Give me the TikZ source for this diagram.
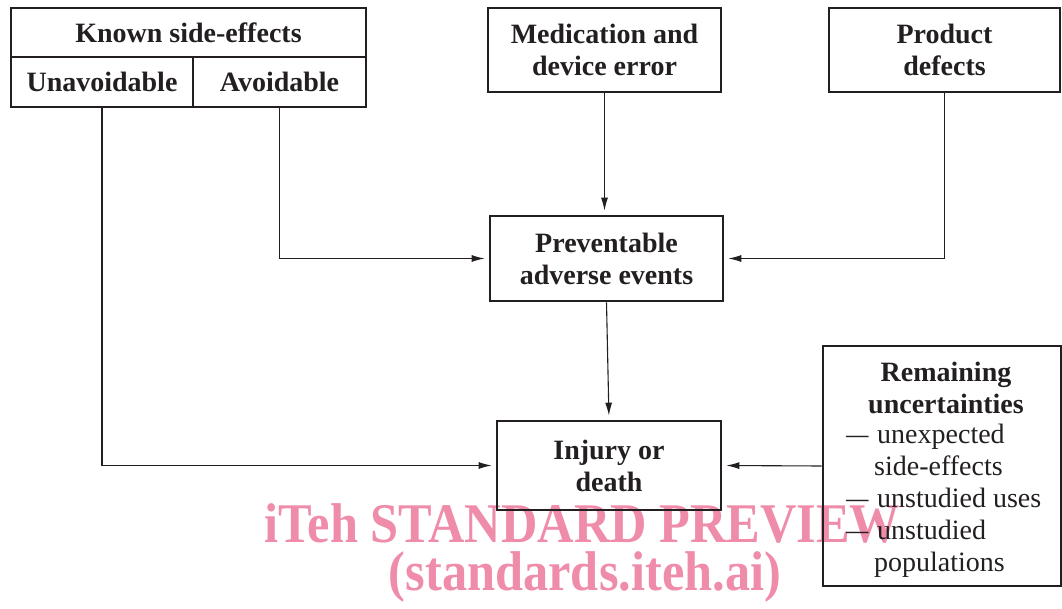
\documentclass[tikz,border=0pt]{standalone}
\usepackage{fontspec}
\setmainfont{Liberation Serif}
\usetikzlibrary{arrows.meta}
\definecolor{wmpink}{RGB}{238,140,170}
\definecolor{ink}{RGB}{35,31,32}
\newcommand{\listdash}{\makebox[31pt][l]{\scalebox{0.8}[1]{—}}}
\begin{document}
\begin{tikzpicture}[x=1pt,y=-1pt,
  box/.style={draw=ink, line width=2.6pt, inner sep=0pt, align=center,
    text=ink, font=\fontsize{28}{32}\selectfont\bfseries},
  arr/.style={draw=ink, line width=1.1pt, -{Latex[length=13pt,width=7pt]}, shorten >=4pt},
  wm/.style={text=wmpink, inner sep=0pt, xscale=0.9,
    font=\fontsize{56}{60}\selectfont\bfseries},
  plain/.style={text=ink, inner sep=0pt, align=left,
    font=\fontsize{28}{32}\selectfont}]
\useasboundingbox (0,0) rectangle (1062,609);
% watermark
\node[wm, anchor=base] (wm1) at (582.5,542) {iTeh STANDARD PREVIEW};
\node[wm, anchor=base] (wm2) at (585,590) {(standards.iteh.ai)};
% boxes
\node[box, minimum width=355pt, minimum height=49pt] (known) at (188.5,32.5) {Known side-effects};
\node[box, minimum width=182pt, minimum height=50pt] (unav) at (102,82) {Unavoidable};
\node[box, minimum width=173pt, minimum height=50pt] (av) at (279.5,82) {Avoidable};
\node[box, minimum width=233pt, minimum height=84pt] (med) at (604.5,50) {Medication and\\device error};
\node[box, minimum width=231pt, minimum height=84pt] (prod) at (944.5,50) {Product\\defects};
\node[box, minimum width=233pt, minimum height=85pt] (prev) at (606.5,258.5) {Preventable\\adverse events};
\node[box, minimum width=224pt, minimum height=89pt] (inj) at (609,465.5) {Injury or\\death};
\node[box, minimum width=238pt, minimum height=240pt] (rem) at (942,466) {};
\node[box, draw=none] (remtitle) at (946,388) {Remaining\\uncertainties};
\node[plain, anchor=north west] (remlist) at (846,424) {\listdash unexpected\\
\hspace*{28pt}side-effects\\
\listdash unstudied uses\\
\listdash unstudied\\
\hspace*{28pt}populations};
% connectors
\draw[arr] (unav.south) |- (inj.west);
\draw[arr] (av.south) |- (prev.west);
\draw[arr] (med.south) -- (med.south |- prev.north);
\draw[arr] (prod.south) |- (prev.east);
\draw[arr] (prev.south) -- (inj.north);
\draw[arr] (rem.west) -- (inj.east);
\end{tikzpicture}
\end{document}
